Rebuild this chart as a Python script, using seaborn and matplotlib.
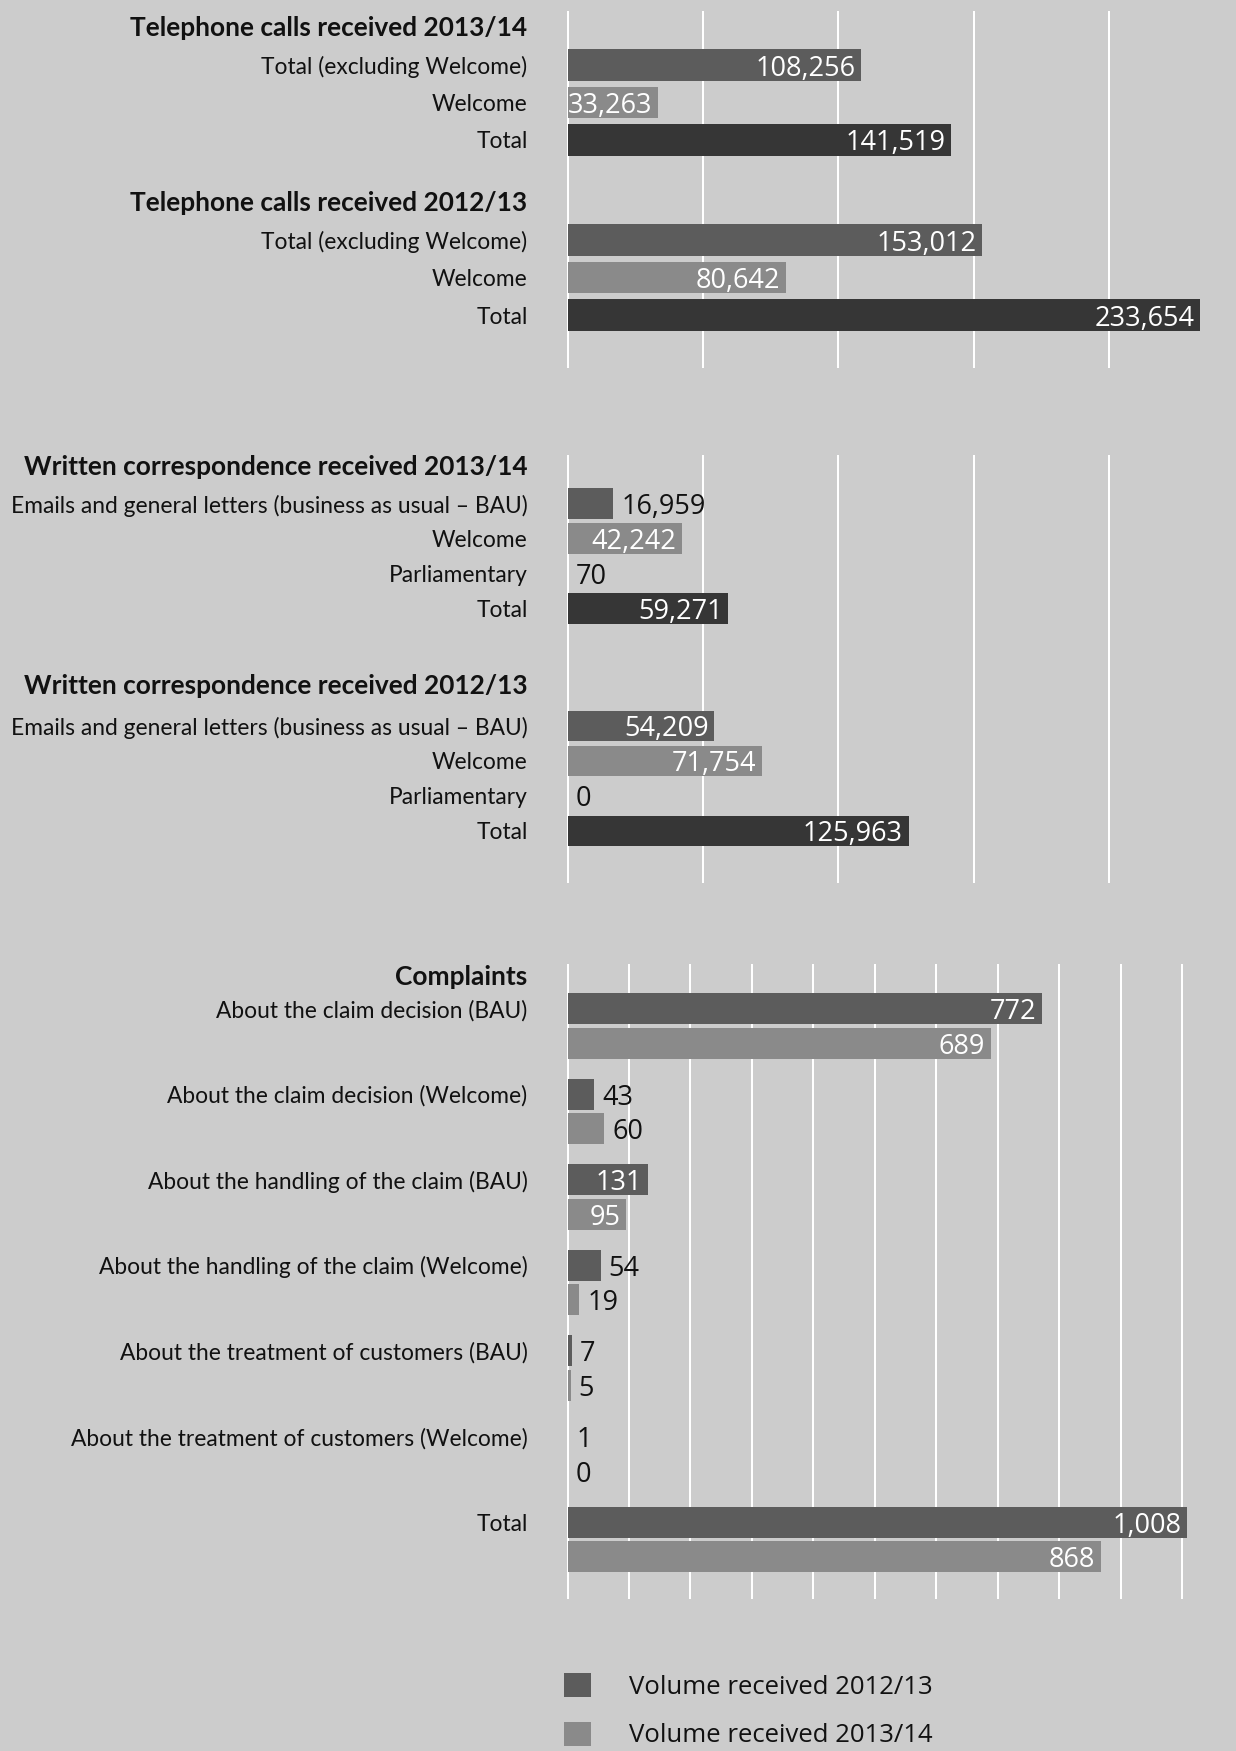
import numpy as np
import pandas as pd
import matplotlib
matplotlib.use("Agg")
import matplotlib.pyplot as plt
import seaborn as sns
from matplotlib.patches import Patch

# ---- data -------------------------------------------------------------
phone_headers = ["Telephone calls received 2013/14", "Telephone calls received 2012/13"]
phone_labels = ["Total (excluding Welcome)", "Welcome", "Total"]
phone_kinds = ["part", "welcome", "total"]
phone_2013_14 = [108256, 33263, 141519]
phone_2012_13 = [153012, 80642, 233654]

written_headers = ["Written correspondence received 2013/14",
                   "Written correspondence received 2012/13"]
written_labels = ["Emails and general letters (business as usual \u2013 BAU)",
                  "Welcome", "Parliamentary", "Total"]
written_kinds = ["part", "welcome", "other", "total"]
written_2013_14 = [16959, 42242, 70, 59271]
written_2012_13 = [54209, 71754, 0, 125963]

complaint_header = "Complaints"
complaint_labels = [
    "About the claim decision (BAU)",
    "About the claim decision (Welcome)",
    "About the handling of the claim (BAU)",
    "About the handling of the claim (Welcome)",
    "About the treatment of customers (BAU)",
    "About the treatment of customers (Welcome)",
    "Total",
]
complaints_2012_13 = [772, 43, 131, 54, 7, 1, 1008]
complaints_2013_14 = [689, 60, 95, 19, 5, 0, 868]
series_names = ["Volume received 2012/13", "Volume received 2013/14"]

# ---- style ------------------------------------------------------------
BG = "#cccccc"
MID = "#5c5c5c"
LIGHT = "#8a8a8a"
DARK = "#363636"
INK = "#111111"
KIND_COLORS = {"part": MID, "welcome": LIGHT, "other": LIGHT, "total": DARK}

LABEL_FONT = ["Lato", "DejaVu Sans"]
VALUE_FONT = ["Open Sans", "DejaVu Sans"]
LABEL_SIZE = 16.4
HEADER_SIZE = 18.9
VALUE_SIZE = 19.5
LEGEND_SIZE = 18.5
MIN_INSIDE_PX = 48   # bars narrower than this always get their value outside

sns.set_theme(style="darkgrid", rc={
    "axes.facecolor": BG,
    "figure.facecolor": BG,
    "grid.color": "white",
    "grid.linewidth": 1.45,
})
plt.rcParams["font.family"] = LABEL_FONT
plt.rcParams["text.color"] = INK
plt.rcParams["ytick.color"] = INK

W, H = 1236, 1751
fig = plt.figure(figsize=(W / 100, H / 100), dpi=100)
fig.patch.set_facecolor(BG)

AX_LEFT = 566.5   # px, one pixel left of the zero line
ZERO_X = 567.5


def add_px_axes(top, bottom):
    return fig.add_axes([AX_LEFT / W, 1 - bottom / H, (W - AX_LEFT) / W, (bottom - top) / H])


def style_axes(ax, step, px_per_step):
    xmax = step * (W - ZERO_X) / px_per_step
    xmin = -step * (ZERO_X - AX_LEFT) / px_per_step
    ax.set_xlim(xmin, xmax)
    ax.set_xticks(np.arange(0, xmax, step))
    ax.tick_params(axis="x", labelbottom=False, length=0)
    ax.tick_params(axis="y", length=0, pad=28, labelsize=LABEL_SIZE, labelcolor=INK)
    ax.xaxis.grid(True, color="white", linewidth=1.45)
    ax.yaxis.grid(False)
    for s in ax.spines.values():
        s.set_visible(False)
    ax.set_xlabel("")
    ax.set_ylabel("")


def embolden(ax, headers):
    for lbl in ax.get_yticklabels():
        if lbl.get_text() in headers:
            lbl.set_fontweight("bold")
            lbl.set_fontsize(HEADER_SIZE)


renderer = fig.canvas.get_renderer()


def value_label(ax, value, ypos):
    """Write the value white inside the bar end, or dark just beyond it."""
    ann = ax.annotate(f"{value:,}", xy=(value, ypos), xytext=(5.8, 0),
                      textcoords="offset points", ha="left", va="center_baseline",
                      fontsize=VALUE_SIZE, family=VALUE_FONT, color=INK)
    x0 = ax.transData.transform((0, ypos))[0]
    x1 = ax.transData.transform((value, ypos))[0]
    bar_px = x1 - x0
    tw = ann.get_window_extent(renderer).width
    if bar_px >= MIN_INSIDE_PX and tw + 5 <= bar_px:
        ann.set_ha("right")
        ann.xyann = (-4.0, 0)
        ann.set_color("white")


def block_panel(ax, labels, kinds, blocks, headers, block_step, header_offsets,
                bar_width, ylim):
    rows = []
    for b, values in enumerate(blocks):
        for i, (lab, kind, v) in enumerate(zip(labels, kinds, values)):
            rows.append(dict(pos=b * block_step + i, label=lab, kind=kind, value=v))
    df = pd.DataFrame(rows)
    sns.barplot(data=df, x="value", y="pos", hue="kind", palette=KIND_COLORS,
                orient="h", native_scale=True, dodge=False, width=bar_width,
                errorbar=None, saturation=1, linewidth=0, legend=False, ax=ax)
    style_axes(ax, 50000, 135.4)
    head_pos = [b * block_step + off for b, off in enumerate(header_offsets)]
    ax.set_yticks(list(df["pos"]) + head_pos, list(df["label"]) + list(headers))
    embolden(ax, headers)
    ax.set_ylim(*ylim)
    for _, r in df.iterrows():
        value_label(ax, r["value"], r["pos"])


# ---- telephone calls ----------------------------------------------------
ax1 = add_px_axes(11, 368)
block_panel(ax1, phone_labels, phone_kinds, [phone_2013_14, phone_2012_13],
            phone_headers, 4.667, [-1.05, -1.05], 0.845, (8.08, -1.44))

# ---- written correspondence ---------------------------------------------
ax2 = add_px_axes(455, 883)
block_panel(ax2, written_labels, written_kinds, [written_2013_14, written_2012_13],
            written_headers, 6.357, [-1.1, -1.19], 0.87, (10.843, -1.386))

# ---- complaints ---------------------------------------------------------
ax3 = add_px_axes(964, 1599)
cdf = pd.DataFrame({
    "category": complaint_labels * 2,
    "series": [series_names[0]] * len(complaint_labels) + [series_names[1]] * len(complaint_labels),
    "value": complaints_2012_13 + complaints_2013_14,
})
CW = 0.805
sns.barplot(data=cdf, x="value", y="category", hue="series",
            palette=[MID, LIGHT], orient="h", width=CW, gap=0.1,
            errorbar=None, saturation=1, linewidth=0, legend=False, ax=ax3)
style_axes(ax3, 100, 61.45)
n = len(complaint_labels)
ax3.set_yticks(list(np.arange(n) - CW / 4) + [-0.59],
               complaint_labels + [complaint_header])
embolden(ax3, [complaint_header])
ax3.set_ylim(6.696, -0.722)
for container, values in zip(ax3.containers, [complaints_2012_13, complaints_2013_14]):
    for patch, v in zip(container.patches, values):
        value_label(ax3, v, patch.get_y() + patch.get_height() / 2)

# ---- legend -------------------------------------------------------------
fig.legend(handles=[Patch(facecolor=MID, linewidth=0), Patch(facecolor=LIGHT, linewidth=0)],
           labels=series_names, loc="upper left",
           bbox_to_anchor=(564 / W, 1 - 1673 / H), frameon=False,
           prop={"family": VALUE_FONT, "size": LEGEND_SIZE},
           handlelength=1.05, handleheight=1.05, handletextpad=1.48,
           labelspacing=0.86, borderpad=0, borderaxespad=0)

fig.savefig("out.png", dpi=100, facecolor=BG)
